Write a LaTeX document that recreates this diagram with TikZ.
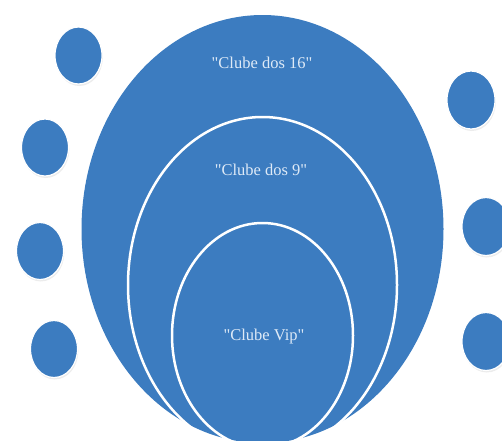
\documentclass[tikz,border=0pt]{standalone}
\usepackage{fontspec}
\setmainfont{Liberation Serif}
\usetikzlibrary{shadows}
\definecolor{clubblue}{RGB}{60,124,192}
\definecolor{clubtext}{RGB}{222,234,247}
\newcommand{\qq}[1]{\textquotedbl#1\textquotedbl}
\begin{document}
\begin{tikzpicture}[x=1pt, y=-1pt, line join=round, line cap=round,
		bubble/.style={fill=clubblue, draw=white, line width=1.2pt, drop shadow={opacity=.15, shadow xshift=.8pt, shadow yshift=-2pt}},
		ring/.style={draw=white, line width=2.5pt},
		clublabel/.style={text=clubtext, font=\fontsize{16.5}{18}\selectfont}]
		\def\cx{262.5}
		\useasboundingbox (0,0) rectangle (502,440);
		\begin{scope}
			\clip (0,0) rectangle (502,440);
			\fill[clubblue] (\cx,229) ellipse [x radius=181, y radius=214];
			\draw[ring] (\cx,285) ellipse [x radius=134.5, y radius=168];
			\draw[ring] (\cx,335.5) ellipse [x radius=90.5, y radius=112.5];
			\foreach \x/\y in {78.5/55.5, 45/147.5, 40/251, 54/349}\path[bubble] (\x,\y) ellipse [x radius=23.5, y radius=28.5];
			\foreach \x/\y in {471/100, 486/226.5, 486/341.5}\path[bubble] (\x,\y) ellipse [x radius=24, y radius=29];
		\end{scope}
		\node[clublabel] (club16) at (262,63) {\qq{Clube dos 16}};
		\node[clublabel] (club9) at (261,170) {\qq{Clube dos 9}};
		\node[clublabel] (clubvip) at (264,337) {\qq{Clube Vip}};
\end{tikzpicture}
\end{document}
